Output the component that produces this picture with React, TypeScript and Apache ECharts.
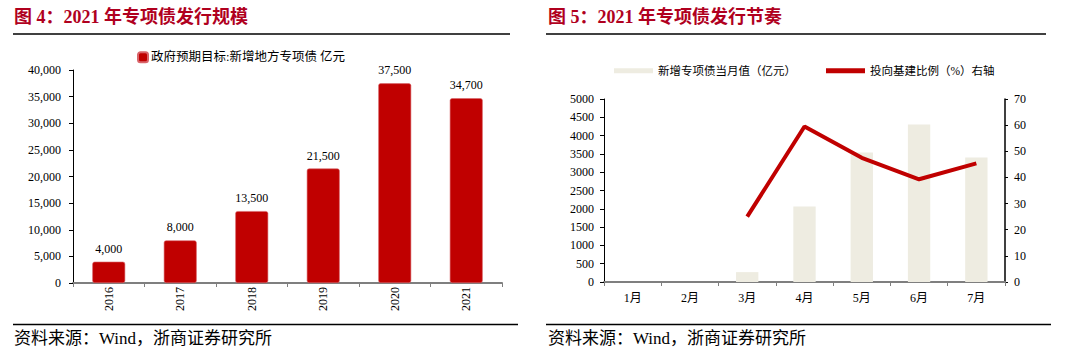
import React, { useEffect, useRef } from "react";
import * as echarts from "echarts";

const yearCats = ["2016", "2017", "2018", "2019", "2020", "2021"];
const targetValues = [4000, 8000, 13500, 21500, 37500, 34700];

const monthCats = ["1月", "2月", "3月", "4月", "5月", "6月", "7月"];
const issueValues = [null, null, 270, 2060, 3540, 4300, 3400];
const infraRatio = [null, null, 25, 59.5, 47.5, 39.3, 45.4];

const title1 = "图 4：2021 年专项债发行规模";
const title2 = "图 5：2021 年专项债发行节奏";
const footer = "资料来源：Wind，浙商证券研究所";
const legend1 = "政府预期目标:新增地方专项债 亿元";
const legend2a = "新增专项债当月值（亿元）";
const legend2b = "投向基建比例（%）右轴";

const SERIF = "'Liberation Serif', 'Noto Sans CJK SC', serif";
const RED = "#C00000";
const TITLE_RED = "#B0001E";
const BEIGE = "#EEECE1";

export default function App() {
  const ref = useRef<HTMLDivElement>(null);
  useEffect(() => {
    if (!ref.current) return;
    const chart = echarts.init(ref.current, null, { renderer: "svg" });
    const fmt = (v: number) => v.toLocaleString("en-US");
    const plain = (v: number) => String(v);
    const axisLabel = { fontFamily: SERIF, fontSize: 12, color: "#000" };
    chart.setOption({
      animation: false,
      backgroundColor: "#fff",
      textStyle: { fontFamily: SERIF },
      grid: [
        { left: 73, right: 565, top: 70, bottom: 76 },
        { left: 604, right: 62, top: 99, bottom: 77 },
      ],
      legend: [
        {
          data: [{ name: legend1, icon: "roundRect" }],
          left: 132,
          top: 46,
          itemWidth: 10,
          itemHeight: 10,
          itemGap: 3,
          textStyle: { fontFamily: SERIF, fontSize: 12.5, color: "#000", padding: [0, 0, 0, -2] },
        },
        {
          data: [
            { name: legend2a, icon: "rect" },
            { name: legend2b, icon: "rect", itemStyle: { color: RED } },
          ],
          left: 609,
          top: 60,
          itemWidth: 39,
          itemHeight: 5,
          itemGap: 30,
          textStyle: { fontFamily: SERIF, fontSize: 11.5, color: "#000" },
        },
      ],
      xAxis: [
        {
          type: "category",
          gridIndex: 0,
          data: yearCats,
          axisLine: { lineStyle: { color: "#7f7f7f", width: 2 } },
          axisTick: { show: true, alignWithLabel: false, length: 4, lineStyle: { color: "#7f7f7f" } },
          axisLabel: { ...axisLabel, rotate: 90, margin: 4 },
        },
        {
          type: "category",
          gridIndex: 1,
          data: monthCats,
          axisLine: { lineStyle: { color: "#7f7f7f", width: 2 } },
          axisTick: { show: true, alignWithLabel: false, length: 4, lineStyle: { color: "#7f7f7f" } },
          axisLabel: { ...axisLabel, margin: 10 },
        },
      ],
      yAxis: [
        {
          type: "value",
          gridIndex: 0,
          min: 0,
          max: 40000,
          interval: 5000,
          splitLine: { show: false },
          axisLine: { show: true, lineStyle: { color: "#000", width: 1 } },
          axisTick: { show: true, length: 4, lineStyle: { color: "#000" } },
          axisLabel: { ...axisLabel, margin: 12, formatter: (v: number) => fmt(v) },
        },
        {
          type: "value",
          gridIndex: 1,
          min: 0,
          max: 5000,
          interval: 500,
          splitLine: { show: false },
          axisLine: { show: true, lineStyle: { color: "#000", width: 1 } },
          axisTick: { show: true, length: 4, lineStyle: { color: "#000" } },
          axisLabel: { ...axisLabel, margin: 10, formatter: plain },
        },
        {
          type: "value",
          gridIndex: 1,
          position: "right",
          min: 0,
          max: 70,
          interval: 10,
          splitLine: { show: false },
          axisLine: { show: true, lineStyle: { color: "#000", width: 1.5 } },
          axisTick: { show: true, length: 3, lineStyle: { color: "#000" } },
          axisLabel: { ...axisLabel, margin: 9, formatter: plain },
        },
      ],
      series: [
        {
          name: legend1,
          type: "bar",
          xAxisIndex: 0,
          yAxisIndex: 0,
          data: targetValues,
          barWidth: "46%",
          itemStyle: { color: RED, borderRadius: 2, borderColor: "#D9646A", borderWidth: 0.6 },
          label: {
            show: true,
            position: "top",
            distance: 7,
            fontFamily: SERIF,
            fontSize: 12,
            color: "#000",
            formatter: (p: any) => fmt(p.value),
          },
        },
        {
          name: legend2a,
          type: "bar",
          xAxisIndex: 1,
          yAxisIndex: 1,
          data: issueValues,
          barWidth: "39%",
          itemStyle: { color: BEIGE },
        },
        {
          name: legend2b,
          type: "line",
          xAxisIndex: 1,
          yAxisIndex: 2,
          data: infraRatio,
          showSymbol: false,
          symbol: "none",
          lineStyle: { color: RED, width: 4 },
          itemStyle: { color: RED },
        },
      ],
      graphic: [
        {
          type: "text",
          left: 14,
          top: 8,
          style: { text: title1, fontFamily: SERIF, fontSize: 18, fontWeight: "bold", fill: TITLE_RED },
        },
        {
          type: "text",
          left: 548,
          top: 8,
          style: { text: title2, fontFamily: SERIF, fontSize: 18, fontWeight: "bold", fill: TITLE_RED },
        },
        { type: "line", shape: { x1: 13, y1: 34, x2: 510, y2: 34 }, style: { stroke: "#000", lineWidth: 1.5 } },
        { type: "line", shape: { x1: 546, y1: 34, x2: 1046, y2: 34 }, style: { stroke: "#000", lineWidth: 1.5 } },
        { type: "line", shape: { x1: 13, y1: 324.5, x2: 518, y2: 324.5 }, style: { stroke: "#000", lineWidth: 1.5 } },
        { type: "line", shape: { x1: 546, y1: 324.5, x2: 1051, y2: 324.5 }, style: { stroke: "#000", lineWidth: 1.5 } },
        {
          type: "text",
          left: 14,
          top: 330,
          style: { text: footer, fontFamily: SERIF, fontSize: 17, fill: "#000" },
        },
        {
          type: "text",
          left: 548,
          top: 330,
          style: { text: footer, fontFamily: SERIF, fontSize: 17, fill: "#000" },
        },
      ],
    });
    return () => chart.dispose();
  }, []);
  return (
    <div
      ref={ref}
      style={{ position: "fixed", left: 0, top: 0, width: 1067, height: 359, background: "#fff" }}
    />
  );
}
